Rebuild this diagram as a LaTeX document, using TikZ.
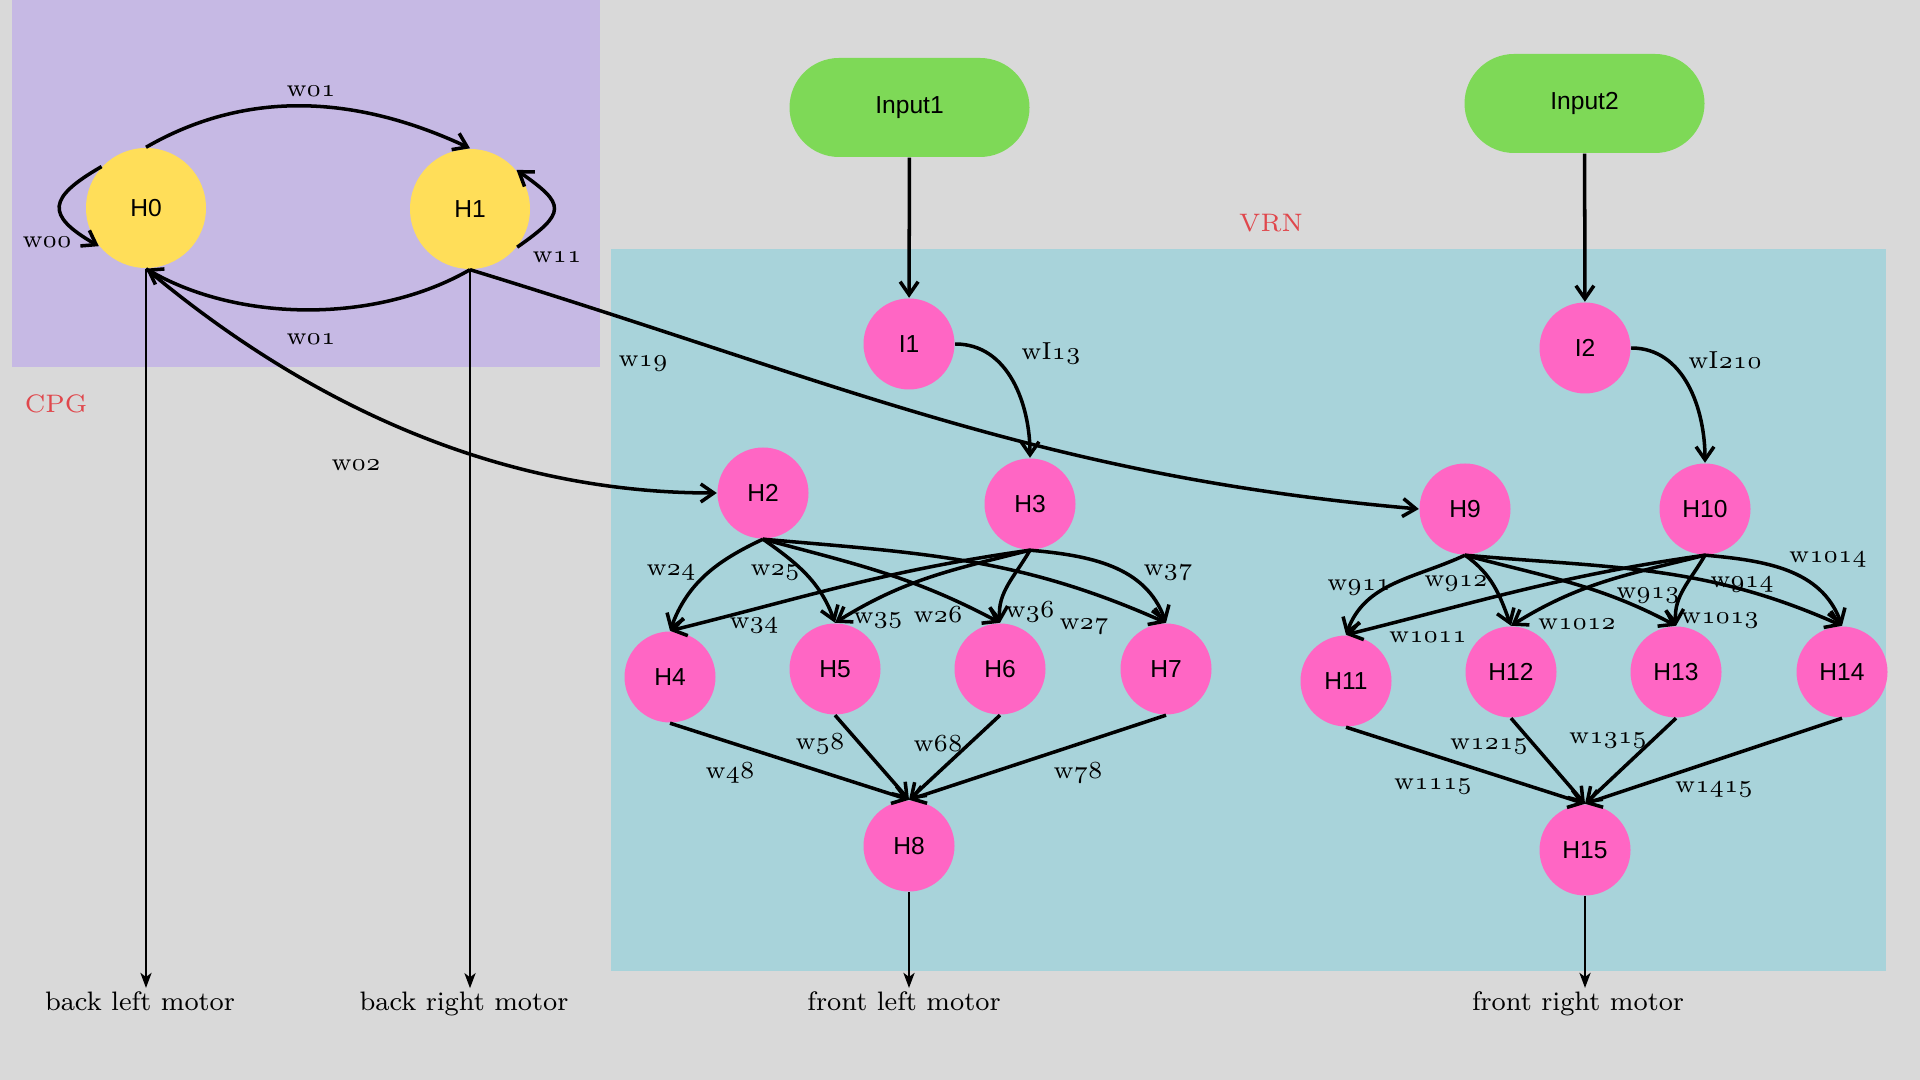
\documentclass[tikz,border=0pt]{standalone}
\usepackage{fontspec}
\newfontfamily\nodefont{Liberation Sans}
\usetikzlibrary{arrows.meta}
\definecolor{bgc}{HTML}{D9D9D9}
\definecolor{cpgc}{HTML}{C6B9E4}
\definecolor{vrnc}{HTML}{A8D3DA}
\definecolor{yellowc}{HTML}{FFDE59}
\definecolor{pinkc}{HTML}{FF66C4}
\definecolor{greenc}{HTML}{7ED957}
\definecolor{redc}{HTML}{E0474C}
\newcommand\osn[1]{{\usefont{OML}{cmm}{m}{it}#1}}
\newcommand\wname[1]{w\osn{#1}}
\tikzset{
  neuron/.style={circle, fill=pinkc, minimum size=0.91cm, inner sep=0pt, font=\nodefont\fontsize{7}{8}\selectfont},
  osc/.style={neuron, fill=yellowc, minimum size=1.2cm},
  inbox/.style={rectangle, rounded corners=0.495cm, fill=greenc, minimum width=2.4cm, minimum height=0.99cm, font=\nodefont\fontsize{7}{8}\selectfont},
  edge/.style={line width=1pt, -{Straight Barb[length=1.3mm,width=1.8mm]}},
  motorline/.style={line width=0.8pt, -{Stealth[length=1.5mm,width=1.1mm,inset=0.4mm]}},
  wlab/.style={inner sep=0pt, font=\fontsize{7}{8}\selectfont},
  motorlab/.style={inner sep=1pt, anchor=base, font=\fontsize{7.6}{9}\selectfont},
  grouplab/.style={inner sep=0pt, text=redc, font=\fontsize{7.2}{9}\selectfont}
}
\begin{document}
\begin{tikzpicture}
\useasboundingbox (0,0) rectangle (19.2,10.8);
\fill[bgc] (0,0) rectangle (19.2,10.8);
\fill[cpgc] (0.12,7.13) rectangle (6.00,10.8);
\fill[vrnc] (6.11,1.09) rectangle (18.86,8.31);
\node[grouplab] (cpg) at (0.56,6.76) {CPG};
\node[grouplab] (vrn) at (12.71,8.57) {VRN};

% CPG
\node[osc] (H0) at (1.46,8.72) {H0};
\node[osc] (H1) at (4.70,8.71) {H1};

% inputs
\node[inbox] (in1) at (9.095,9.725) {Input1};
\node[inbox] (in2) at (15.845,9.765) {Input2};
\node[neuron] (I1) at (9.09,7.36) {I1};
\node[neuron] (I2) at (15.85,7.32) {I2};

% VRN left
\node[neuron] (H2) at (7.63,5.87) {H2};
\node[neuron] (H3) at (10.30,5.76) {H3};
\node[neuron] (H4) at (6.70,4.03) {H4};
\node[neuron] (H5) at (8.35,4.11) {H5};
\node[neuron] (H6) at (10.00,4.11) {H6};
\node[neuron] (H7) at (11.66,4.11) {H7};
\node[neuron] (H8) at (9.09,2.34) {H8};

% VRN right
\node[neuron] (H9) at (14.65,5.71) {H9};
\node[neuron] (H10) at (17.05,5.71) {H10};
\node[neuron] (H11) at (13.46,3.99) {H11};
\node[neuron] (H12) at (15.11,4.08) {H12};
\node[neuron] (H13) at (16.76,4.08) {H13};
\node[neuron] (H14) at (18.42,4.08) {H14};
\node[neuron] (H15) at (15.85,2.30) {H15};

% motors
\node[motorlab] (blm) at (1.40,0.69) {back left motor};
\node[motorlab] (brm) at (4.64,0.69) {back right motor};
\node[motorlab] (flm) at (9.04,0.69) {front left motor};
\node[motorlab] (frm) at (15.78,0.69) {front right motor};

% connections
\draw[edge] (H0.north) to[out=30,in=155,looseness=0.95] (H1.north);
\draw[edge] (H1.south) to[out=-150,in=-30,looseness=0.85] (H0.south);
\draw[edge] (H0.137) to[out=210,in=150,looseness=2] (H0.219);
\draw[edge] (H1.-39) to[out=35,in=-35,looseness=2] (H1.40);
\draw[edge] (H0.south) to[out=-40,in=180,looseness=0.9] (H2.west);
\draw[edge] (H1.south) to[out=-17,in=175] (H9.west);
\draw[edge] (in1) -- (I1);
\draw[edge] (in2) -- (I2);
\draw[edge] (I1.east) to[out=0,in=90] (H3.north);
\draw[edge] (I2.east) to[out=0,in=90] (H10.north);
\foreach \s/\t/\o/\i in {H2/H4/-155/70, H2/H5/-35/110, H2/H6/-15/152, H2/H7/-5/156,
  H3/H4/-172/14, H3/H5/-166/32, H3/H6/-120/95, H3/H7/-5/110,
  H9/H11/-155/70, H9/H12/-35/110, H9/H13/-15/152, H9/H14/-5/156,
  H10/H11/-172/14, H10/H12/-166/32, H10/H13/-120/95, H10/H14/-5/110}
  \draw[edge] (\s.south) to[out=\o,in=\i] (\t.north);
\foreach \s in {H4,H5,H6,H7} \draw[edge] (\s.south) -- (H8.north);
\foreach \s in {H11,H12,H13,H14} \draw[edge] (\s.south) -- (H15.north);
\draw[motorline] (H0.south) -- (H0.south |- blm.north);
\draw[motorline] (H1.south) -- (H1.south |- brm.north);
\draw[motorline] (H8.south) -- (H8.south |- flm.north);
\draw[motorline] (H15.south) -- (H15.south |- frm.north);

% weights
\node[wlab] (l01a) at (3.11,9.89) {\wname{01}};
\node[wlab] (l01b) at (3.11,7.41) {\wname{01}};
\node[wlab] (l00) at (0.47,8.38) {\wname{00}};
\node[wlab] (l11) at (5.57,8.23) {\wname{11}};
\node[wlab] (l19) at (6.43,7.16) {\wname{19}};
\node[wlab] (l02) at (3.56,6.15) {\wname{02}};
\node[wlab] (lI13) at (10.51,7.26) {wI\osn{13}};
\node[wlab] (lI210) at (17.25,7.20) {wI\osn{210}};
\node[wlab] (l24) at (6.71,5.07) {\wname{24}};
\node[wlab] (l25) at (7.75,5.07) {\wname{25}};
\node[wlab] (l34) at (7.54,4.54) {\wname{34}};
\node[wlab] (l35) at (8.78,4.59) {\wname{35}};
\node[wlab] (l26) at (9.38,4.65) {\wname{26}};
\node[wlab] (l36) at (10.30,4.68) {\wname{36}};
\node[wlab] (l27) at (10.84,4.53) {\wname{27}};
\node[wlab] (l37) at (11.68,5.07) {\wname{37}};
\node[wlab] (l58) at (8.20,3.36) {\wname{58}};
\node[wlab] (l68) at (9.38,3.36) {\wname{68}};
\node[wlab] (l48) at (7.30,3.07) {\wname{48}};
\node[wlab] (l78) at (10.78,3.07) {\wname{78}};
\node[wlab] (l911) at (13.59,4.92) {\wname{911}};
\node[wlab] (l912) at (14.56,4.96) {\wname{912}};
\node[wlab] (l913) at (16.48,4.84) {\wname{913}};
\node[wlab] (l914) at (17.42,4.95) {\wname{914}};
\node[wlab] (l1014) at (18.28,5.20) {\wname{1014}};
\node[wlab] (l1011) at (14.28,4.43) {\wname{1011}};
\node[wlab] (l1012) at (15.77,4.56) {\wname{1012}};
\node[wlab] (l1013) at (17.20,4.59) {\wname{1013}};
\node[wlab] (l1215) at (14.89,3.33) {\wname{1215}};
\node[wlab] (l1315) at (16.08,3.39) {\wname{1315}};
\node[wlab] (l1115) at (14.33,2.93) {\wname{1115}};
\node[wlab] (l1415) at (17.14,2.90) {\wname{1415}};
\end{tikzpicture}
\end{document}
